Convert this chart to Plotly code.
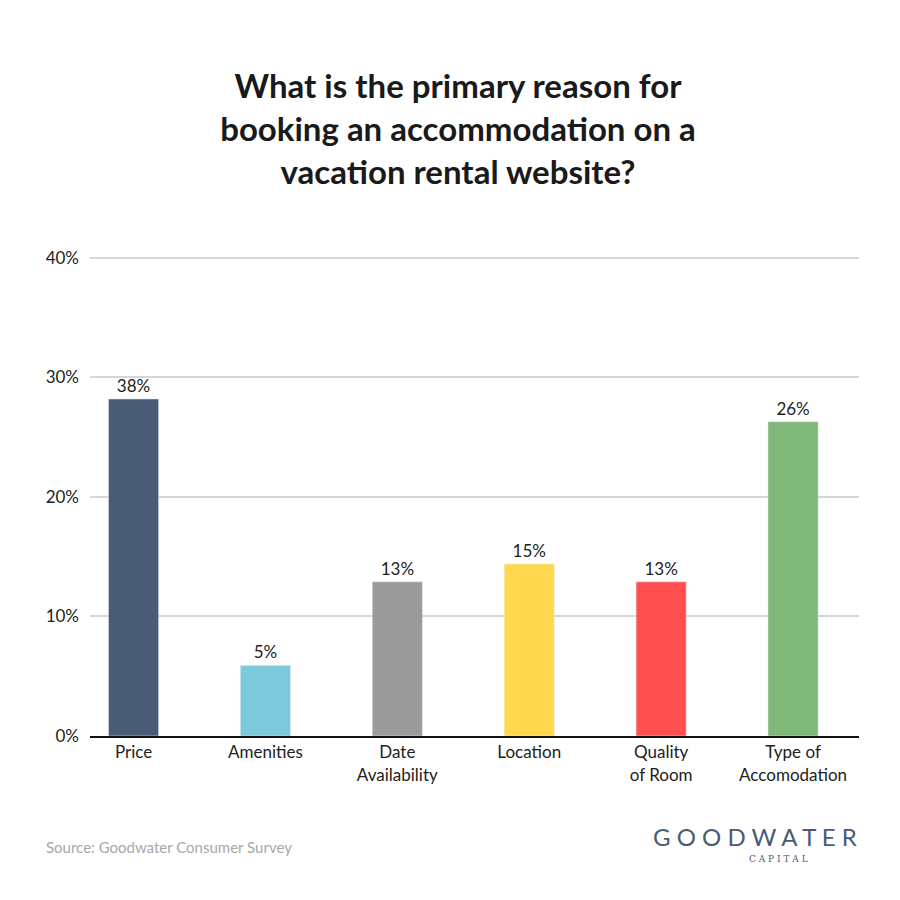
import plotly.graph_objects as go

categories = ["Price", "Amenities", "Date<br>Availability", "Location", "Quality<br>of Room", "Type of<br>Accomodation"]
bar_values = [28.2, 5.9, 12.9, 14.4, 12.9, 26.3]
bar_labels = ["38%", "5%", "13%", "15%", "13%", "26%"]
colors = ["#4a5b75", "#7bc9da", "#9b9b9b", "#ffd84d", "#ff4f4f", "#80b87a"]
y_ticks = [0, 10, 20, 30, 40]
y_tick_text = ["0%", "10%", "20%", "30%", "40%"]

fig = go.Figure(go.Bar(
    x=list(range(len(categories))), y=bar_values, marker_color=colors,
    text=bar_labels, textposition="outside", cliponaxis=False,
    textfont=dict(size=17, color="#222"),
))
fig.update_layout(
    width=900, height=900, paper_bgcolor="white", plot_bgcolor="white",
    margin=dict(l=82, r=49, t=244, b=172), bargap=0.62, showlegend=False,
    font=dict(family="Lato, sans-serif", color="#222"),
    title=dict(text="<b>What is the primary reason for<br>booking an accommodation on a<br>vacation rental website?</b>",
               x=0.5, xanchor="center", y=0.9, yanchor="middle",
               font=dict(size=33, family="Lato, sans-serif", color="#1a1a1a")),
)
fig.update_xaxes(range=[-0.33, 5.5], tickvals=list(range(len(categories))), ticktext=categories,
                 tickfont=dict(size=17, color="#222"), showline=True, linecolor="#111", linewidth=2,
                 showgrid=False, ticks="")
fig.update_yaxes(range=[0, 40.5], tickvals=y_ticks, ticktext=y_tick_text, showgrid=True,
                 gridcolor="#d6d6d6", gridwidth=1.5, tickfont=dict(size=17, color="#222"),
                 ticklabelstandoff=10, zeroline=False)
fig.add_annotation(text="Source: Goodwater Consumer Survey", xref="paper", yref="paper",
                   x=-0.06, y=-0.23, xanchor="left", yanchor="middle", showarrow=False,
                   font=dict(size=15, color="#a8a8a8"))
fig.add_annotation(text="G O O D W A T E R", xref="paper", yref="paper",
                   x=1.0, y=-0.208, xanchor="right", yanchor="middle", showarrow=False,
                   font=dict(size=24, color="#4a5b75", family="Lato, sans-serif"))
fig.add_annotation(text="C A P I T A L", xref="paper", yref="paper",
                   x=0.895, y=-0.255, xanchor="center", yanchor="middle", showarrow=False,
                   font=dict(size=9, color="#4a5b75", family="DejaVu Serif, serif"))
fig.write_html("out.html")
